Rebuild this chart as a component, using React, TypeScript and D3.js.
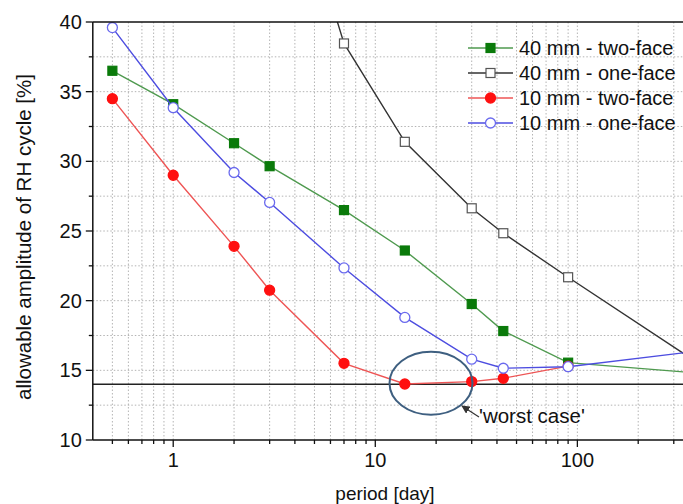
import React from "react";
import * as d3 from "d3";

// Periods (days) and allowable RH amplitudes (%)
const periods = [0.5, 1, 2, 3, 7, 14, 30, 43, 90, 365];
const thick2Face = [36.5, 34.1, 31.3, 29.65, 26.5, 23.6, 19.76, 17.82, 15.55, 14.84];
const thick1FacePeriods = [3, 7, 14, 30, 43, 90, 365];
const thick1Face = [55.9, 38.46, 31.4, 26.63, 24.84, 21.68, 15.85];
const thin2FacePeriods = [0.5, 1, 2, 3, 7, 14, 30, 43, 90];
const thin2Face = [34.5, 29.0, 23.9, 20.75, 15.5, 14.02, 14.19, 14.43, 15.3];
const thin1Face = [39.6, 33.85, 29.2, 27.05, 22.35, 18.8, 15.8, 15.15, 15.26, 16.32];

const seriesNames = [
  "40 mm - two-face",
  "40 mm - one-face",
  "10 mm - two-face",
  "10 mm - one-face",
];

const xTickLabels = [1, 10, 100];
const yTickLabels = [10, 15, 20, 25, 30, 35, 40];
const worstCaseLevel = 14;

const W = 683;
const H = 504;
const FONT = "Liberation Sans, Arial, sans-serif";

type Series = {
  name: string;
  xs: number[];
  ys: number[];
  line: string;
  marker: "square" | "circle";
  fill: string;
  stroke: string;
};

const series: Series[] = [
  { name: seriesNames[0], xs: periods, ys: thick2Face, line: "#4f9a4f", marker: "square", fill: "#0a7a0a", stroke: "#0a7a0a" },
  { name: seriesNames[1], xs: thick1FacePeriods, ys: thick1Face, line: "#333333", marker: "square", fill: "#ffffff", stroke: "#555555" },
  { name: seriesNames[2], xs: thin2FacePeriods, ys: thin2Face, line: "#ee5555", marker: "circle", fill: "#ff1010", stroke: "#ff1010" },
  { name: seriesNames[3], xs: periods, ys: thin1Face, line: "#4d4de0", marker: "circle", fill: "#ffffff", stroke: "#6a6aee" },
];

function Marker({ kind, cx, cy, fill, stroke }: { kind: string; cx: number; cy: number; fill: string; stroke: string }) {
  if (kind === "square") {
    return <rect x={cx - 4.5} y={cy - 4.5} width={9} height={9} fill={fill} stroke={stroke} strokeWidth={1.2} />;
  }
  return <circle cx={cx} cy={cy} r={5} fill={fill} stroke={stroke} strokeWidth={1.3} />;
}

export default function App() {
  const x = d3.scaleLog().domain([0.4, 365]).range([92.8, 691]);
  const y = d3.scaleLinear().domain([10, 40]).range([440, 22]);
  const [x0, x1] = x.range();
  const [yb, yt] = y.range();

  // grid / tick positions on the log axis
  const xMinor: number[] = [];
  [0.1, 1, 10, 100].forEach((dec) => {
    for (let k = 1; k <= 9; k++) {
      const v = dec * k;
      if (v > 0.4 + 1e-9 && v < 365) xMinor.push(v);
    }
  });
  const yGrid = d3.range(12.5, 40, 2.5);
  const yMinor = d3.range(12.5, 40, 5);

  const lineGen = d3
    .line<[number, number]>()
    .x((d) => x(d[0]))
    .y((d) => y(d[1]));

  const legendX = 468;
  const legendY0 = 48;
  const legendDy = 25;

  return (
    <svg
      width={W}
      height={H}
      style={{ position: "absolute", left: 0, top: 0, background: "#fff" }}
      fontFamily={FONT}
    >
      <defs>
        <clipPath id="plotClip">
          <rect x={x0} y={yt} width={x1 - x0} height={yb - yt} />
        </clipPath>
        <marker id="arrowHead" viewBox="0 0 10 10" refX="9" refY="5" markerWidth="7" markerHeight="7" orient="auto-start-reverse">
          <path d="M0,0 L10,5 L0,10 z" fill="#333" />
        </marker>
      </defs>

      {/* dotted grid */}
      <g stroke="#b4b4b4" strokeWidth={1} strokeDasharray="1.5,2">
        {xMinor.map((v) => (
          <line key={"gx" + v} x1={x(v)} x2={x(v)} y1={yt} y2={yb} />
        ))}
        {yGrid.map((v) => (
          <line key={"gy" + v} x1={x0} x2={x1} y1={y(v)} y2={y(v)} />
        ))}
      </g>

      {/* worst-case reference level */}
      <line x1={x0} x2={x1} y1={y(worstCaseLevel)} y2={y(worstCaseLevel)} stroke="#222" strokeWidth={1.3} />

      {/* series */}
      <g clipPath="url(#plotClip)">
        {series.map((s) => {
          const pts = s.xs.map((p, i) => [p, s.ys[i]] as [number, number]);
          return (
            <g key={s.name}>
              <path d={lineGen(pts) || ""} fill="none" stroke={s.line} strokeWidth={1.4} />
              {pts.map((p, i) => (
                <Marker key={i} kind={s.marker} cx={x(p[0])} cy={y(p[1])} fill={s.fill} stroke={s.stroke} />
              ))}
            </g>
          );
        })}
      </g>

      {/* worst case annotation */}
      <ellipse cx={431} cy={y(worstCaseLevel) - 1} rx={41.5} ry={31.5} fill="none" stroke="#3e5f80" strokeWidth={2} />
      <line x1={479} y1={417} x2={462} y2={406} stroke="#333" strokeWidth={1.2} markerEnd="url(#arrowHead)" />
      <text x={479} y={423} fontSize={20.5} fill="#111">'worst case'</text>

      {/* frame */}
      <line x1={x0} x2={x1} y1={yt} y2={yt} stroke="#111" strokeWidth={1.5} />
      <line x1={x0} x2={x1} y1={yb} y2={yb} stroke="#111" strokeWidth={1.5} />
      <line x1={x0} x2={x0} y1={yt} y2={yb} stroke="#111" strokeWidth={1.5} />

      {/* y axis ticks */}
      <g stroke="#111" strokeWidth={1.3}>
        {yTickLabels.map((v) => (
          <line key={"yt" + v} x1={x0 - 7} x2={x0} y1={y(v)} y2={y(v)} />
        ))}
        {yMinor.map((v) => (
          <line key={"ym" + v} x1={x0 - 4} x2={x0} y1={y(v)} y2={y(v)} />
        ))}
      </g>
      <g fontSize={20} fill="#111" textAnchor="end">
        {yTickLabels.map((v) => (
          <text key={"yl" + v} x={x0 - 11} y={y(v) + 7}>
            {v}
          </text>
        ))}
      </g>

      {/* x axis ticks */}
      <g stroke="#111" strokeWidth={1.3}>
        {xMinor.map((v) => {
          const major = xTickLabels.includes(v);
          return <line key={"xt" + v} x1={x(v)} x2={x(v)} y1={yb} y2={yb + (major ? 7 : 4)} />;
        })}
      </g>
      <g fontSize={20} fill="#111" textAnchor="middle">
        {xTickLabels.map((v) => (
          <text key={"xl" + v} x={x(v)} y={467}>
            {v}
          </text>
        ))}
      </g>

      {/* axis titles */}
      <text x={385} y={500} fontSize={19} textAnchor="middle" fill="#111">
        period [day]
      </text>
      <text transform={`translate(31, ${(yt + yb) / 2 + 6}) rotate(-90)`} fontSize={20.5} textAnchor="middle" fill="#111">
        allowable amplitude of RH cycle [%]
      </text>

      {/* legend */}
      {series.map((s, i) => {
        const ly = legendY0 + i * legendDy;
        return (
          <g key={"lg" + s.name}>
            <line x1={legendX} x2={legendX + 45} y1={ly} y2={ly} stroke={s.line} strokeWidth={1.4} />
            <Marker kind={s.marker} cx={legendX + 22.5} cy={ly} fill={s.fill} stroke={s.stroke} />
            <text x={legendX + 51} y={ly + 7} fontSize={20} fill="#111">
              {s.name}
            </text>
          </g>
        );
      })}
    </svg>
  );
}
